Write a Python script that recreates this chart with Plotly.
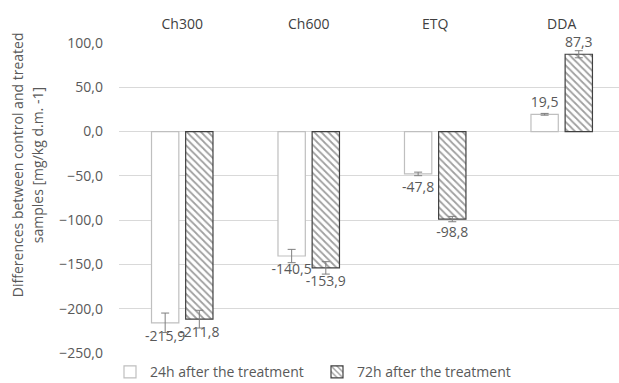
import plotly.graph_objects as go

categories = ["Ch300", "Ch600", "ETQ", "DDA"]
series_names = ["24h after the treatment", "72h after the treatment"]
values_24h = [-215.9, -140.5, -47.8, 19.5]
values_72h = [-211.8, -153.9, -98.8, 87.3]
err_24h = [11.0, 7.5, 2.0, 1.0]
err_72h = [10.0, 7.0, 3.0, 4.0]
y_ticks = [100, 50, 0, -50, -100, -150, -200, -250]
y_title_lines = ["Differences between control and treated", "samples [mg/kg d.m. -1]"]

FONT = "Open Sans"
GRAY = "#595959"

fig = go.Figure()
fig.add_trace(go.Bar(
    x=categories, y=values_24h, name=series_names[0],
    marker=dict(color="white", line=dict(color="#bfbfbf", width=1.2)),
    error_y=dict(type="data", array=err_24h, visible=True, color="#7f7f7f", thickness=1, width=4),
    texttemplate="%{y:.1f}", textposition="outside", constraintext="none",
    textfont=dict(family=FONT, size=14, color=GRAY), cliponaxis=False,
))
fig.add_trace(go.Bar(
    x=categories, y=values_72h, name=series_names[1],
    marker=dict(color="white", line=dict(color="#404040", width=1.2),
                pattern=dict(shape="\\", fgcolor="#404040", bgcolor="white", size=5, solidity=0.35)),
    error_y=dict(type="data", array=err_72h, visible=True, color="#7f7f7f", thickness=1, width=4),
    texttemplate="%{y:.1f}", textposition="outside", constraintext="none",
    textfont=dict(family=FONT, size=14, color=GRAY), cliponaxis=False,
))

title_x_px = [17, 37]
annotations = []
for line, xp in zip(y_title_lines, title_x_px):
    annotations.append(dict(
        text=line, xref="paper", yref="paper", x=(xp - 119) / 500, y=0.606,
        xanchor="center", yanchor="middle", textangle=-90, showarrow=False,
        font=dict(family=FONT, size=14, color=GRAY),
    ))

fig.update_layout(
    width=619, height=383,
    margin=dict(l=119, r=0, t=43, b=30, autoexpand=False),
    paper_bgcolor="white", plot_bgcolor="white",
    separators=",.",
    barmode="group", bargap=0.46, bargroupgap=0.2,
    font=dict(family=FONT, size=14, color=GRAY),
    showlegend=True,
    legend=dict(orientation="h", x=-0.018, xanchor="left", y=-0.062, yanchor="middle",
                font=dict(family=FONT, size=14, color=GRAY), bgcolor="rgba(0,0,0,0)",
                borderwidth=0, itemwidth=30, entrywidth=162, entrywidthmode="pixels"),
    annotations=annotations,
)
fig.update_xaxes(
    side="top", range=[-0.5, 3.453], showgrid=False, showline=False, ticks="",
    tickfont=dict(family=FONT, size=14, color="#404040"), ticklabelstandoff=10,
    automargin=False,
)
fig.update_yaxes(
    range=[-250, 100], tickvals=y_ticks, tickformat=".1f",
    showgrid=True, gridcolor="#d9d9d9", gridwidth=1,
    zeroline=True, zerolinecolor="#d9d9d9", zerolinewidth=1,
    showline=False, ticks="", ticklabelstandoff=15,
    tickfont=dict(family=FONT, size=14, color=GRAY), automargin=False,
)

fig.write_html("out.html", config={"displayModeBar": False},
               post_script="document.body.style.margin='0';")
